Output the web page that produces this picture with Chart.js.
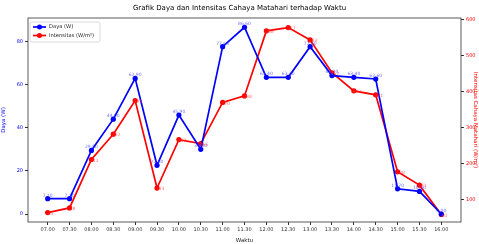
<!DOCTYPE html>
<html>
<head>
<meta charset="utf-8">
<script src="https://cdn.jsdelivr.net/npm/chart.js@4"></script>
<style>
html, body { margin: 0; padding: 0; background: #fff; }
</style>
</head>
<body>
<canvas id="chart" width="479" height="244"></canvas>
<script>
// Grafik daya & intensitas
const waktu = ['07.00', '07.30', '08.00', '08.30', '09.00', '09.30', '10.00', '10.30', '11.00', '11.30',
    '12.00', '12.30', '13.00', '13.30', '14.00', '14.30', '15.00', '15.30', '16.00'];
const daya = [7.1, 7.1, 29.5, 44.0, 62.9, 22.6, 45.9, 30.0, 77.6, 86.6,
    63.4, 63.4, 77.6, 64.2, 63.4, 62.6, 11.7, 10.5, 0.0];
const intensitas = [65, 78, 212, 282, 375, 133, 267, 256, 370, 388,
    568, 577, 543, 452, 402, 391, 178, 141, 60];
const dayaTicks = [0, 20, 40, 60, 80];
const intensitasTicks = [100, 200, 300, 400, 500, 600];

const BLUE = '#0000ff';
const RED = '#ff0000';

Chart.defaults.font.family = 'DejaVu Sans';

function setTicks(values) {
    return function (scale) {
        scale.ticks = values.map(v => ({ value: v }));
    };
}

const framePlugin = {
    id: 'frame',
    beforeDatasetsDraw(chart) {
        const a = chart.chartArea;
        const ctx = chart.ctx;
        ctx.save();
        ctx.strokeStyle = '#333';
        ctx.lineWidth = 0.8;
        ctx.strokeRect(a.left, a.top, a.right - a.left, a.bottom - a.top);
        ctx.restore();
    }
};

const valueLabels = {
    id: 'valueLabels',
    afterDatasetsDraw(chart) {
        const ctx = chart.ctx;
        ctx.save();
        ctx.font = '4.5px DejaVu Sans';
        ctx.textAlign = 'center';
        chart.getDatasetMeta(0).data.forEach((pt, i) => {
            ctx.fillStyle = 'rgba(60,60,255,0.75)';
            ctx.textBaseline = 'bottom';
            ctx.fillText(daya[i].toFixed(2), pt.x, pt.y - 1);
        });
        chart.getDatasetMeta(1).data.forEach((pt, i) => {
            ctx.fillStyle = 'rgba(255,60,60,0.75)';
            ctx.textBaseline = 'middle';
            ctx.fillText(String(intensitas[i]), pt.x + 3, pt.y + 1);
        });
        ctx.restore();
    }
};

const boxLegend = {
    id: 'boxLegend',
    afterDraw(chart) {
        const ctx = chart.ctx;
        const a = chart.chartArea;
        const x = a.left + 2, y = a.top + 4, w = 70, h = 20;
        ctx.save();
        ctx.fillStyle = 'rgba(255,255,255,0.85)';
        ctx.strokeStyle = '#d0d0d0';
        ctx.lineWidth = 0.8;
        ctx.beginPath();
        ctx.roundRect(x, y, w, h, 2);
        ctx.fill();
        ctx.stroke();
        chart.data.datasets.forEach((ds, i) => {
            const ly = y + 5 + i * 8.5;
            ctx.strokeStyle = ds.borderColor;
            ctx.lineWidth = 1.7;
            ctx.beginPath();
            ctx.moveTo(x + 3, ly);
            ctx.lineTo(x + 16, ly);
            ctx.stroke();
            ctx.fillStyle = ds.borderColor;
            ctx.beginPath();
            ctx.arc(x + 9.5, ly, 2.5, 0, Math.PI * 2);
            ctx.fill();
            ctx.fillStyle = '#222';
            ctx.font = '5.2px DejaVu Sans';
            ctx.textAlign = 'left';
            ctx.textBaseline = 'middle';
            ctx.fillText(ds.label, x + 19, ly);
        });
        ctx.restore();
    }
};

new Chart(document.getElementById('chart'), {
    type: 'line',
    data: {
        datasets: [{
            label: 'Daya (W)',
            data: daya.map((v, i) => ({ x: i, y: v })),
            borderColor: BLUE,
            backgroundColor: BLUE,
            borderWidth: 1.7,
            pointRadius: 2.6,
            pointBorderWidth: 0,
            yAxisID: 'y'
        }, {
            label: 'Intensitas (W/m²)',
            data: intensitas.map((v, i) => ({ x: i, y: v })),
            borderColor: RED,
            backgroundColor: RED,
            borderWidth: 1.7,
            pointRadius: 2.6,
            pointBorderWidth: 0,
            yAxisID: 'y1'
        }]
    },
    options: {
        responsive: false,
        animation: false,
        layout: { padding: 0 },
        plugins: {
            legend: { display: false },
            tooltip: { enabled: false },
            title: {
                display: true,
                text: 'Grafik Daya dan Intensitas Cahaya Matahari terhadap Waktu',
                color: '#000',
                font: { size: 7, weight: 'normal' },
                padding: { top: 4, bottom: 5.6 }
            }
        },
        scales: {
            x: {
                type: 'linear',
                min: -0.9,
                max: 18.9,
                afterBuildTicks: setTicks(waktu.map((_, i) => i)),
                afterFit(scale) { scale.height = 22; },
                ticks: {
                    autoSkip: false,
                    maxRotation: 0,
                    color: '#333',
                    font: { size: 5 },
                    padding: 2,
                    callback: v => waktu[v]
                },
                grid: { drawOnChartArea: false, tickLength: 3, color: '#333' },
                border: { display: false },
                title: { display: true, text: 'Waktu', color: '#222', font: { size: 5.5 }, padding: 0 }
            },
            y: {
                position: 'left',
                min: -3.7,
                max: 90.9,
                afterBuildTicks: setTicks(dayaTicks),
                afterFit(scale) { scale.width = 28; },
                ticks: { color: BLUE, font: { size: 5 }, padding: 2 },
                grid: { drawOnChartArea: false, tickLength: 3, color: '#333' },
                border: { display: false },
                title: { display: true, text: 'Daya (W)', color: BLUE, font: { size: 5.5 }, padding: 0 }
            },
            y1: {
                position: 'right',
                min: 39,
                max: 603.6,
                afterBuildTicks: setTicks(intensitasTicks),
                afterFit(scale) { scale.width = 18; },
                ticks: { color: RED, font: { size: 5 }, padding: 2 },
                grid: { drawOnChartArea: false, tickLength: 3, color: '#333' },
                border: { display: false },
                title: { display: true, text: 'Intensitas Cahaya Matahari (W/m²)', color: RED, font: { size: 5.5 }, padding: 0 }
            }
        }
    },
    plugins: [framePlugin, valueLabels, boxLegend]
});
</script>
</body>
</html>
